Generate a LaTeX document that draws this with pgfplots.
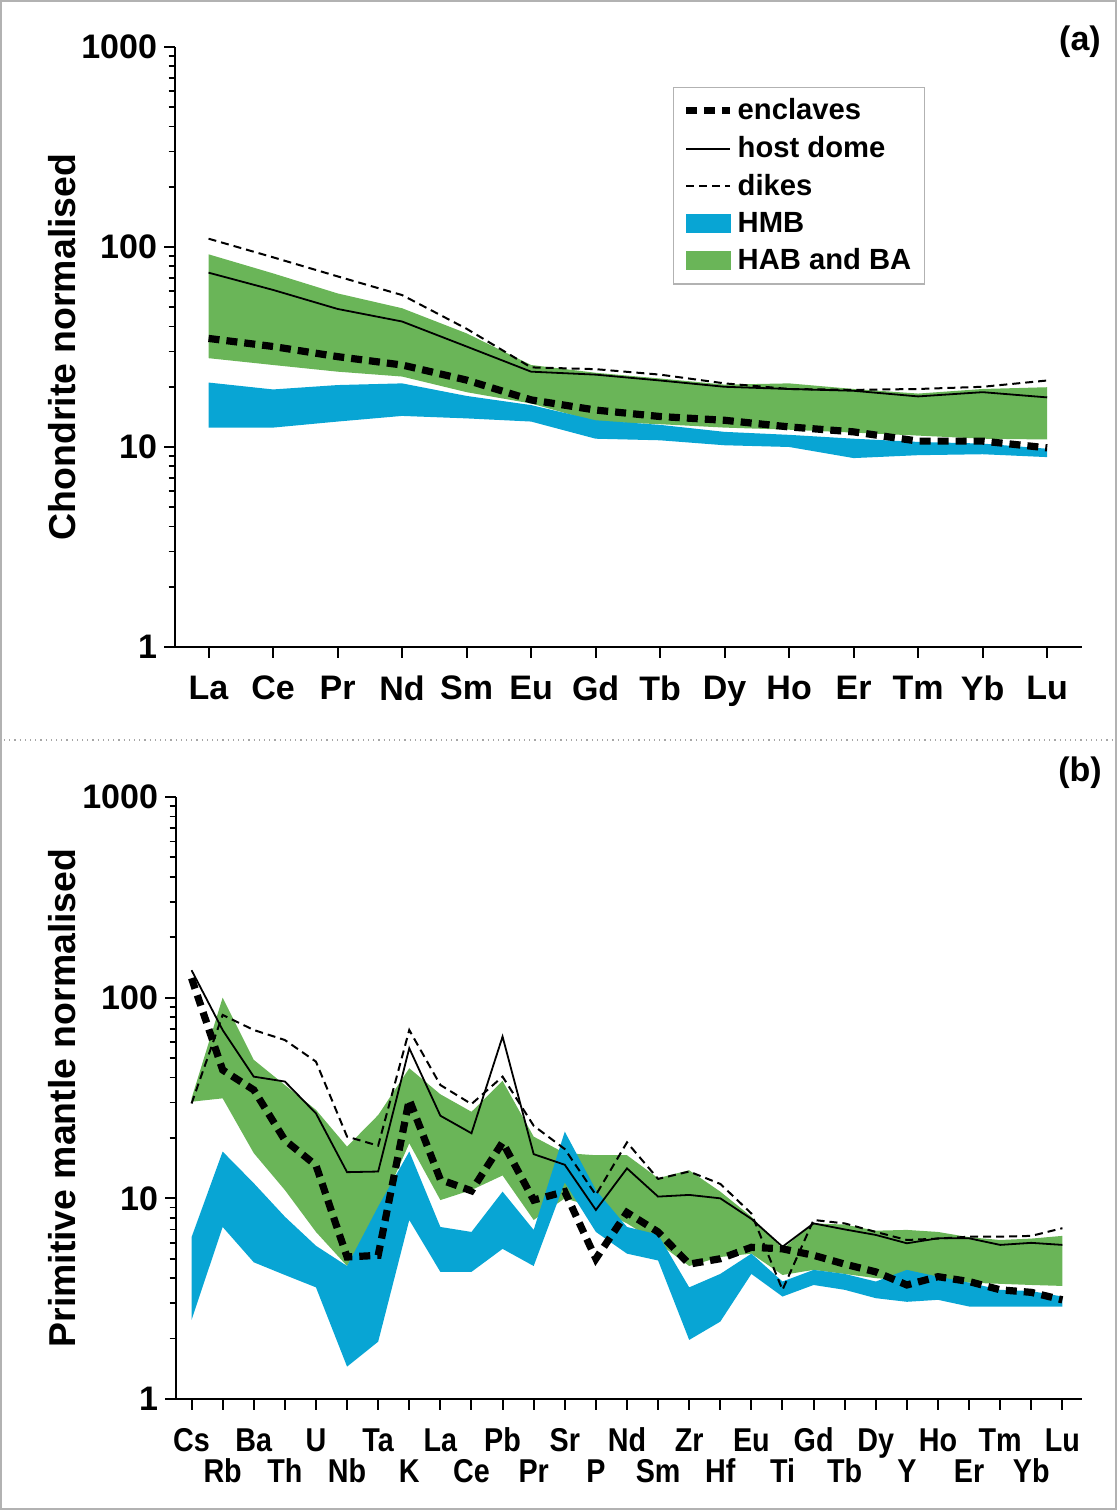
\documentclass[border=0pt]{standalone}
\usepackage{fontspec}
\setmainfont{Liberation Sans}
\newfontfamily\narrowfont[FakeStretch=0.87]{Liberation Sans}
\usepackage{pgfplots}
\pgfplotsset{compat=1.18}
\usepgfplotslibrary{fillbetween}
\usepackage{pgfplotstable}

\definecolor{hmb}{RGB}{8,165,212}
\definecolor{hab}{RGB}{106,181,88}

% Panel (a): chondrite normalised REE
\pgfplotstableread{
x encl host dikes gtop gbot btop bbot
0 34.9 74.4 110 91.9 27.8 21.0 12.5
1 31.8 61.0 88.8 73.8 25.7 19.4 12.5
2 28.3 49.0 71.3 58.6 23.8 20.4 13.4
3 25.7 42.4 57.5 49.4 22.5 20.8 14.3
4 21.6 31.8 39.0 37.0 18.8 18.0 13.9
5 17.2 23.8 25.0 25.7 16.5 16.2 13.4
6 15.3 23.0 24.5 23.5 13.4 13.6 11.0
7 14.2 21.5 23.0 22.0 13.0 12.9 10.8
8 13.6 20.0 20.8 20.5 12.5 11.9 10.2
9 12.6 19.5 19.5 20.8 12.2 11.5 10.0
10 11.9 19.1 19.3 19.5 11.8 11.0 8.8
11 10.7 17.9 19.5 18.5 11.4 10.6 9.1
12 10.7 18.8 20.0 19.5 11.0 10.4 9.2
13 9.9 17.7 21.5 19.9 10.9 9.8 8.9
}\tabA

% Panel (b): primitive mantle normalised
\pgfplotstableread{
x encl host dikes gtop gbot btop bbot
0 125 137 29.7 31.5 30.3 6.4 2.48
1 43.6 69 82 100 31.5 17.1 7.2
2 34.7 40.4 69 49 16.8 11.9 4.8
3 19.5 38.2 61.5 36.7 11.0 8.1 4.15
4 14.6 26.5 48 27.6 6.8 5.8 3.6
5 5.1 13.5 20.3 18.1 4.6 4.6 1.45
6 5.2 13.6 18.3 26 8.4 9.1 1.93
7 31 56 69 44.5 18.8 17.1 7.8
8 12.4 25.8 36.7 33 9.8 7.2 4.3
9 10.9 21.1 29.5 27 11.0 6.8 4.3
10 19.0 64 40.4 38.5 13.0 10.8 5.6
11 9.8 16.6 23 20.3 7.8 6.96 4.6
12 10.8 14.7 17.6 16.8 10.0 21.5 12.0
13 5.0 8.75 10.4 16.4 9.0 11.0 6.8
14 8.5 14.1 19.0 16.4 7.5 7.2 5.3
15 6.8 10.2 12.5 12.6 6.0 6.6 4.9
16 4.7 10.4 13.6 13.8 4.6 3.6 1.97
17 5.0 10.0 11.8 10.8 5.1 4.2 2.43
18 5.7 7.9 8.4 8.1 5.3 5.3 4.2
19 5.6 5.74 3.5 5.6 4.15 3.85 3.24
20 5.2 7.5 7.8 7.5 4.4 4.4 3.7
21 4.7 7.0 7.5 7.4 4.2 4.2 3.5
22 4.3 6.57 6.8 6.9 4.0 3.85 3.18
23 3.7 5.97 6.2 6.96 3.9 4.4 3.05
24 4.07 6.32 6.3 6.8 3.85 4.07 3.12
25 3.85 6.32 6.44 6.4 3.8 3.8 2.89
26 3.5 5.86 6.44 6.2 3.75 3.5 2.89
27 3.4 6.0 6.5 6.3 3.7 3.45 2.89
28 3.12 5.86 7.1 6.5 3.66 3.24 2.89
}\tabB

\tikzset{
  enclline/.style={black, line width=3.6pt, dash pattern=on 5.5pt off 3.5pt},
  hostline/.style={black, line width=0.9pt},
  dikeline/.style={black, line width=1pt, dash pattern=on 4pt off 2.5pt},
}

\begin{document}
\begin{tikzpicture}
\draw[gray!60, line width=0.8pt] (0.4pt,0.4pt) rectangle (558.1pt,754.6pt);
\draw[gray!70, dotted, line width=0.6pt] (2pt,385pt) -- (556.5pt,385pt);

\begin{axis}[
  scale only axis, ymode=log, ymin=1, ymax=1000,
  axis lines=left, axis line style={-, line width=1.2pt},
  tick align=outside, major tick length=5.5pt, minor tick length=3.2pt,
  tick style={black, line width=1pt},
  minor tick style={black, line width=0.9pt},
  ytick={1,10,100,1000}, yticklabels={1,10,100,1000},
  minor ytick={2,3,4,5,6,7,8,9,20,30,40,50,60,70,80,90,200,300,400,500,600,700,800,900},
  y tick label style={font=\fontsize{17}{17}\selectfont\bfseries},
  at={(87.5pt,431.5pt)}, anchor=south west,
  width=453.5pt, height=300pt,
  xmin=-0.52, xmax=13.54,
  xtick={0,...,13},
  xticklabels={La,Ce,Pr,Nd,Sm,Eu,Gd,Tb,Dy,Ho,Er,Tm,Yb,Lu},
  x tick label style={font=\fontsize{17}{17}\selectfont\bfseries, yshift=-5.5pt},
  ylabel={Chondrite normalised},
  ylabel style={font=\fontsize{18.7}{19}\selectfont\bfseries, anchor=center,
    at={(axis description cs:-0.1246,0.5)}},
  legend style={at={(axis description cs:0.549,0.933)}, anchor=north west,
    draw=gray!60, line width=0.6pt,
    font=\fontsize{14.6}{16}\selectfont\bfseries,
    inner xsep=4.5pt, inner ysep=3.5pt, row sep=2.8pt},
  legend cell align=left,
  legend image code/.code={\draw[#1] (0pt,0pt) -- (22pt,0pt);},
]
\addplot[draw=none, name path=gt, forget plot] table[x=x,y=gtop]{\tabA};
\addplot[draw=none, name path=gb, forget plot] table[x=x,y=gbot]{\tabA};
\addplot[hab, forget plot] fill between[of=gt and gb];
\addplot[draw=none, name path=bt, forget plot] table[x=x,y=btop]{\tabA};
\addplot[draw=none, name path=bb, forget plot] table[x=x,y=bbot]{\tabA};
\addplot[hmb, forget plot] fill between[of=bt and bb];
\addplot[dikeline, forget plot] table[x=x,y=dikes]{\tabA};
\addplot[hostline, forget plot] table[x=x,y=host]{\tabA};
\addplot[enclline, forget plot] table[x=x,y=encl]{\tabA};

\addlegendimage{enclline}
\addlegendentry{enclaves}
\addlegendimage{hostline}
\addlegendentry{host dome}
\addlegendimage{dikeline}
\addlegendentry{dikes}
\addlegendimage{legend image code/.code={\fill[hmb] (0pt,-4.5pt) rectangle (22pt,4.5pt);}}
\addlegendentry{HMB}
\addlegendimage{legend image code/.code={\fill[hab] (0pt,-4.5pt) rectangle (22pt,4.5pt);}}
\addlegendentry{HAB and BA}
\end{axis}

\begin{axis}[
  scale only axis, ymode=log, ymin=1, ymax=1000,
  axis lines=left, axis line style={-, line width=1.2pt},
  tick align=outside, major tick length=5.5pt, minor tick length=3.2pt,
  tick style={black, line width=1pt},
  minor tick style={black, line width=0.9pt},
  ytick={1,10,100,1000}, yticklabels={1,10,100,1000},
  minor ytick={2,3,4,5,6,7,8,9,20,30,40,50,60,70,80,90,200,300,400,500,600,700,800,900},
  y tick label style={font=\fontsize{17}{17}\selectfont\bfseries},
  at={(88pt,55.5pt)}, anchor=south west,
  width=453pt, height=301pt,
  xmin=-0.5, xmax=28.63,
  xtick={0,2,...,28},
  xticklabels={Cs,Ba,U,Ta,La,Pb,Sr,Nd,Zr,Eu,Gd,Dy,Ho,Tm,Lu},
  extra x ticks={1,3,...,27},
  extra x tick labels={Rb,Th,Nb,K,Ce,Pr,P,Sm,Hf,Ti,Tb,Y,Er,Yb},
  x tick label style={font=\fontsize{16.5}{17}\narrowfont\bfseries,
    inner sep=0.5pt, text height=12pt, text depth=0pt, yshift=-8pt},
  extra x tick style={tick label style={yshift=-15.5pt}},
  ylabel={Primitive mantle normalised},
  ylabel style={font=\fontsize{18.7}{19}\selectfont\bfseries, anchor=center,
    at={(axis description cs:-0.126,0.5)}},
]
\addplot[draw=none, name path=gt2] table[x=x,y=gtop]{\tabB};
\addplot[draw=none, name path=gb2] table[x=x,y=gbot]{\tabB};
\addplot[hab] fill between[of=gt2 and gb2];
\addplot[draw=none, name path=bt2] table[x=x,y=btop]{\tabB};
\addplot[draw=none, name path=bb2] table[x=x,y=bbot]{\tabB};
\addplot[hmb] fill between[of=bt2 and bb2];
\addplot[dikeline] table[x=x,y=dikes]{\tabB};
\addplot[hostline] table[x=x,y=host]{\tabB};
\addplot[enclline] table[x=x,y=encl]{\tabB};
\end{axis}

\node[font=\fontsize{17}{17}\selectfont\bfseries] at (540pt,734pt) {(a)};
\node[font=\fontsize{17}{17}\selectfont\bfseries] at (540pt,368.5pt) {(b)};
\end{tikzpicture}
\end{document}
